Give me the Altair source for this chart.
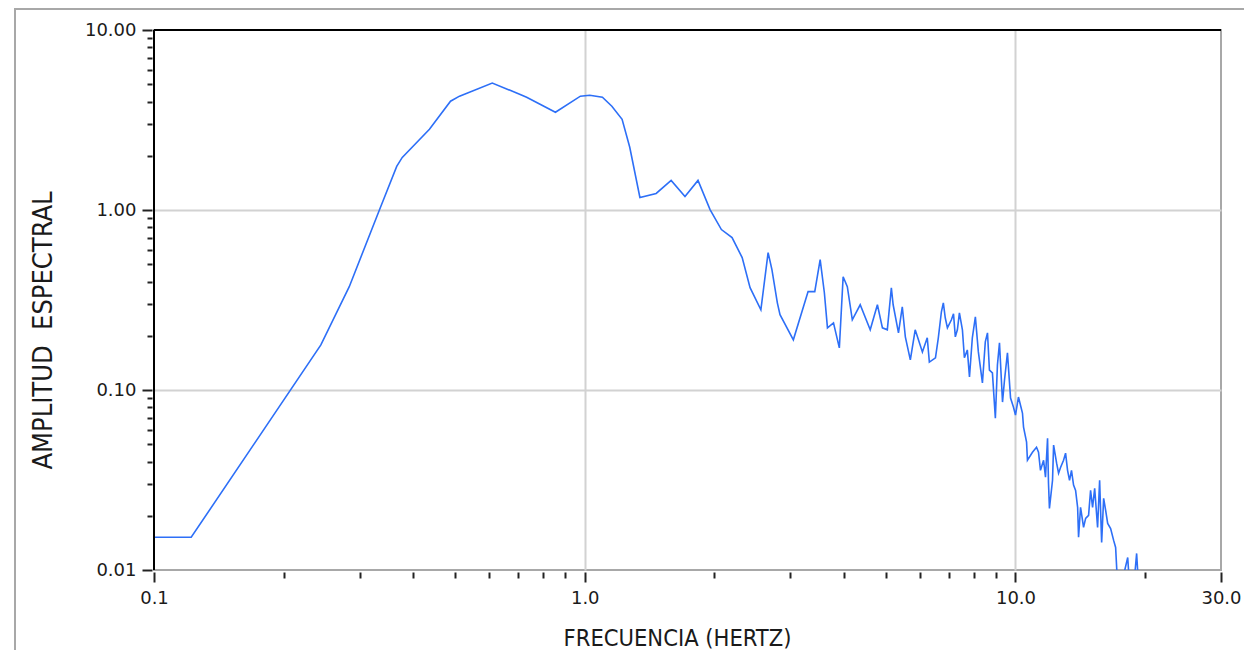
import altair as alt
import pandas as pd

# Spectral amplitude readings (frequency in Hz, amplitude)
freq = [0.1, 0.122, 0.244, 0.284, 0.334, 0.366, 0.377, 0.436, 0.488, 0.512,
        0.61, 0.706, 0.733, 0.855, 0.977, 1.027, 1.099, 1.156, 1.221, 1.272,
        1.343, 1.465, 1.587, 1.709, 1.832, 1.954, 2.076, 2.198, 2.32, 2.42,
        2.564, 2.665, 2.72, 2.80, 2.84, 3.05, 3.30, 3.42, 3.52, 3.60,
        3.66, 3.78, 3.90, 3.98, 4.07, 4.18, 4.36, 4.60, 4.78, 4.91,
        5.04, 5.15, 5.20, 5.35, 5.46, 5.55, 5.70, 5.85, 6.08, 6.24,
        6.31, 6.52, 6.62, 6.73, 6.80, 6.87, 6.95, 7.10, 7.18, 7.25,
        7.33, 7.41, 7.53, 7.61, 7.73, 7.82, 7.94, 8.07, 8.20, 8.38,
        8.51, 8.61, 8.70, 8.84, 8.98, 9.08, 9.18, 9.33, 9.43, 9.58,
        9.74, 9.89, 10.0, 10.16, 10.38, 10.44, 10.61, 10.66, 10.95, 11.19,
        11.31, 11.43, 11.62, 11.74, 11.87, 11.93, 11.99, 12.19, 12.26, 12.46,
        12.59, 12.73, 12.93, 13.07, 13.21, 13.35, 13.49, 13.64, 13.79, 13.94,
        14.01, 14.16, 14.39, 14.55, 14.78, 14.94, 15.10, 15.27, 15.51, 15.68,
        15.85, 16.02, 16.19, 16.37, 16.63, 16.90, 17.08, 17.27, 17.55, 18.22,
        18.41, 18.81, 19.11, 19.32]

amp = [0.0152, 0.0152, 0.178, 0.375, 1.006, 1.746, 1.96, 2.81, 4.02, 4.29,
       5.07, 4.40, 4.23, 3.49, 4.29, 4.34, 4.23, 3.77, 3.19, 2.23,
       1.174, 1.236, 1.46, 1.19, 1.46, 1.006, 0.779, 0.703, 0.544, 0.370,
       0.279, 0.580, 0.466, 0.305, 0.262, 0.190, 0.352, 0.352, 0.530, 0.347,
       0.2215, 0.236, 0.1714, 0.426, 0.375, 0.2455, 0.2975, 0.216, 0.2975, 0.2215,
       0.216, 0.370, 0.2975, 0.2078, 0.290, 0.1974, 0.147, 0.216, 0.1628, 0.195,
       0.143, 0.151, 0.195, 0.272, 0.305, 0.252, 0.2215, 0.2455, 0.265, 0.1974,
       0.216, 0.2685, 0.216, 0.151, 0.167, 0.118, 0.195, 0.255, 0.1628, 0.1094,
       0.185, 0.2078, 0.129, 0.1244, 0.0698, 0.1378, 0.1827, 0.0857, 0.1137, 0.1607,
       0.0902, 0.0804, 0.0726, 0.0914, 0.0745, 0.0622, 0.0513, 0.0407, 0.0451, 0.0481,
       0.0451, 0.0358, 0.0407, 0.0328, 0.054, 0.0303, 0.022, 0.0315, 0.0494, 0.0392,
       0.0345, 0.0372, 0.0407, 0.0446, 0.0358, 0.0315, 0.0358, 0.0296, 0.0277, 0.0223,
       0.0152, 0.0223, 0.01725, 0.01936, 0.0201, 0.0277, 0.0223, 0.0284, 0.01725, 0.0315,
       0.0142, 0.025, 0.0215, 0.01816, 0.017, 0.0146, 0.01334, 0.008, 0.008, 0.01174,
       0.008, 0.008, 0.01236, 0.008]

x_major = [0.1, 1, 10, 30]
x_minor = [0.2, 0.3, 0.4, 0.5, 0.6, 0.7, 0.8, 0.9, 2, 3, 4, 5, 6, 7, 8, 9, 20]
y_major = [0.01, 0.1, 1, 10]
y_minor = [0.02, 0.03, 0.04, 0.05, 0.06, 0.07, 0.08, 0.09,
           0.2, 0.3, 0.4, 0.5, 0.6, 0.7, 0.8, 0.9,
           2, 3, 4, 5, 6, 7, 8, 9]

df = pd.DataFrame({"f": freq, "a": amp})

W, H = 1067, 540
TITLE_FONT = "'Liberation Sans Narrow', 'DejaVu Sans Condensed', 'Roboto Condensed', sans-serif"
TICK_FONT = "DejaVu Sans"

xs = alt.Scale(type="log", domain=[0.1, 30], nice=False)
ys = alt.Scale(type="log", domain=[0.01, 10], nice=False)

line = alt.Chart(df).mark_line(color="#2d6ff7", strokeWidth=1.6, clip=True).encode(
    x=alt.X("f:Q", scale=xs, axis=alt.Axis(
        values=x_major, format=".1f", orient="bottom", offset=2, domain=False,
        tickSize=10, tickWidth=2, tickColor="#222222",
        labelFont=TICK_FONT, labelFontSize=18, labelColor="#1a1a1a",
        labelPadding=7, labelFlush=False, labelOverlap=False,
        grid=True, gridColor="#d2d2d2", gridWidth=2,
        gridOpacity={"condition": {"test": "datum.value > 0.5 && datum.value < 20", "value": 1}, "value": 0},
        title="FRECUENCIA (HERTZ)", titleFont=TITLE_FONT, titleFontSize=23.5,
        titleFontWeight="normal", titleColor="#1a1a1a",
        titleX=523, titleY=73, titleAlign="center", titleBaseline="alphabetic")),
    y=alt.Y("a:Q", scale=ys, axis=alt.Axis(
        values=y_major, format=".2f", orient="left", offset=2, domain=False,
        tickSize=10, tickWidth=2, tickColor="#222222",
        labelFont=TICK_FONT, labelFontSize=18, labelColor="#1a1a1a",
        labelPadding=6, labelOverlap=False,
        grid=True, gridColor="#d2d2d2", gridWidth=2,
        gridOpacity={"condition": {"test": "datum.value > 0.05 && datum.value < 5", "value": 1}, "value": 0},
        title="AMPLITUD \u00a0ESPECTRAL", titleFont=TITLE_FONT, titleFontSize=27,
        titleFontWeight="normal", titleColor="#1a1a1a", titleAngle=270,
        titleX=-101, titleY=300, titleAlign="center", titleBaseline="alphabetic")),
)

minor = alt.Chart(df).mark_point(opacity=0, clip=True).encode(
    x=alt.X("f:Q", scale=xs, axis=alt.Axis(
        values=x_minor, labels=False, title="", orient="bottom", offset=2,
        domain=False, grid=False, tickSize=6, tickWidth=2, tickColor="#222222")),
    y=alt.Y("a:Q", scale=ys, axis=alt.Axis(
        values=y_minor, labels=False, title="", orient="left", offset=2,
        domain=False, grid=False, tickSize=5, tickWidth=2, tickColor="#222222")),
)

one = pd.DataFrame({"k": [0]})
frame_left = alt.Chart(one).mark_rule(color="#000000", strokeWidth=2).encode(
    x=alt.value(0), y=alt.value(0), y2=alt.value(H))
frame_top = alt.Chart(one).mark_rule(color="#000000", strokeWidth=2).encode(
    x=alt.value(0), x2=alt.value(W), y=alt.value(0))
outer_left = alt.Chart(one).mark_rule(color="#a8a8a8", strokeWidth=2).encode(
    x=alt.value(-139), y=alt.value(-21), y2=alt.value(H + 80))
outer_top = alt.Chart(one).mark_rule(color="#a8a8a8", strokeWidth=2).encode(
    x=alt.value(-140), x2=alt.value(W + 23), y=alt.value(-21))

chart = alt.layer(line, minor, frame_left, frame_top, outer_left, outer_top).resolve_axis(
    x="independent", y="independent"
).resolve_scale(x="shared", y="shared").properties(
    width=W, height=H,
    autosize=alt.AutoSizeParams(type="none"),
    padding={"left": 146, "top": 22, "right": 23, "bottom": 80},
    background="#ffffff",
).configure_view(stroke="#a8a8a8", strokeWidth=2)

chart.save("out.html", embed_options={"renderer": "svg", "actions": False})
